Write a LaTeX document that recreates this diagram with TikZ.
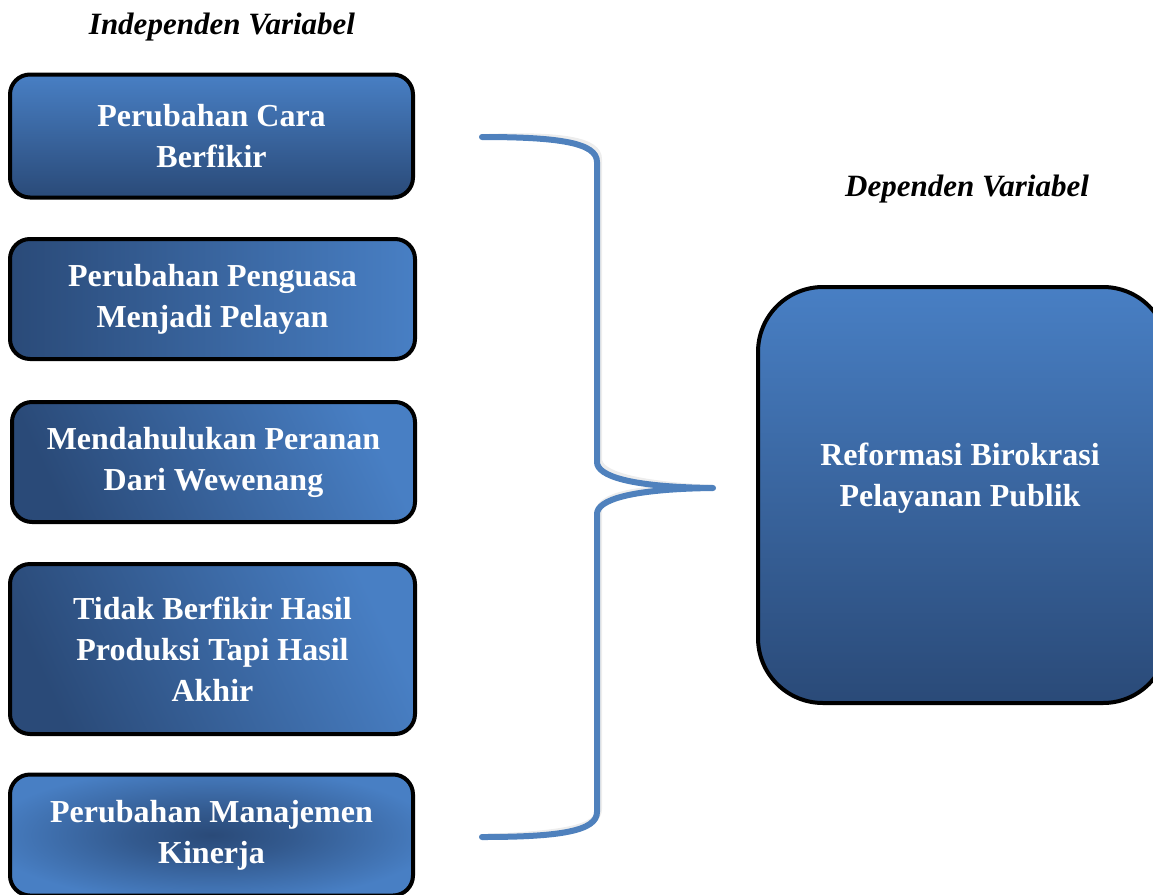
\documentclass[tikz,border=0pt]{standalone}
\usepackage{fontspec}
\setmainfont{Liberation Serif}
\definecolor{lightblue}{RGB}{72,127,196}
\definecolor{darkblue}{RGB}{42,74,120}
\definecolor{bracecol}{RGB}{79,129,189}
\pgfdeclareradialshading{spot}{\pgfpoint{0bp}{0bp}}{color(0bp)=(darkblue); color(10bp)=(darkblue!70!lightblue); color(28bp)=(lightblue); color(50bp)=(lightblue)}
\tikzset{
  vbox/.style={draw=black, line width=4pt, rounded corners=20pt, text=white,
    align=center, font=\bfseries\fontsize{32}{41}\selectfont, inner sep=0pt},
  title/.style={font=\bfseries\itshape\fontsize{31}{36}\selectfont, text=black, inner sep=0pt},
  bracestyle/.style={draw=bracecol, line width=6pt, line cap=round, line join=round},
}
\begin{document}
\begin{tikzpicture}[x=1pt,y=-1pt]
\useasboundingbox (0,0) rectangle (1153,894);
\node[title] (t1) at (222,27) {Independen Variabel};
\node[title] (t2) at (967,189) {Dependen Variabel};

\node[vbox, minimum width=403pt, minimum height=123pt, top color=lightblue, bottom color=darkblue] (b1) at (211.5,136) {Perubahan Cara\\Berfikir};
\node[vbox, minimum width=405pt, minimum height=120pt, left color=darkblue, right color=lightblue] (b2) at (212.5,299) {Perubahan Penguasa\\Menjadi Pelayan};
\node[vbox, minimum width=403pt, minimum height=120pt, top color=lightblue, bottom color=darkblue, shading angle=-65] (b3) at (213.5,462) {Mendahulukan Peranan\\Dari Wewenang};
\node[vbox, minimum width=405pt, minimum height=170pt, top color=lightblue, bottom color=darkblue, shading angle=-65] (b4) at (212.5,649) {Tidak Berfikir Hasil\\Produksi Tapi Hasil\\Akhir};
\node[vbox, minimum width=403pt, minimum height=121pt, shading=spot] (b5) at (211.5,835) {Perubahan Manajemen\\Kinerja};

\node[vbox, rounded corners=65pt, minimum width=410pt, minimum height=416pt, top color=lightblue, bottom color=darkblue] (rb) at (963,495) {};
\node[text=white, align=center, font=\bfseries\fontsize{32}{41}\selectfont, inner sep=0pt] (rbt) at (960,478) {Reformasi Birokrasi\\Pelayanan Publik};

\coordinate (bt) at (482,137);
\coordinate (bb) at (482,837);
\coordinate (tip) at (713,488);
\draw[bracestyle, draw=black!7, shift={(2pt,3pt)}] (bt) .. controls (560,137) and (597,143) .. (597,162) -- (597,462) .. controls (597,476) and (630,487) .. (tip) .. controls (630,489) and (597,500) .. (597,514) -- (597,812) .. controls (597,831) and (560,837) .. (bb);
\draw[bracestyle] (bt) .. controls (560,137) and (597,143) .. (597,162) -- (597,462) .. controls (597,476) and (630,487) .. (tip) .. controls (630,489) and (597,500) .. (597,514) -- (597,812) .. controls (597,831) and (560,837) .. (bb);
\end{tikzpicture}
\end{document}
